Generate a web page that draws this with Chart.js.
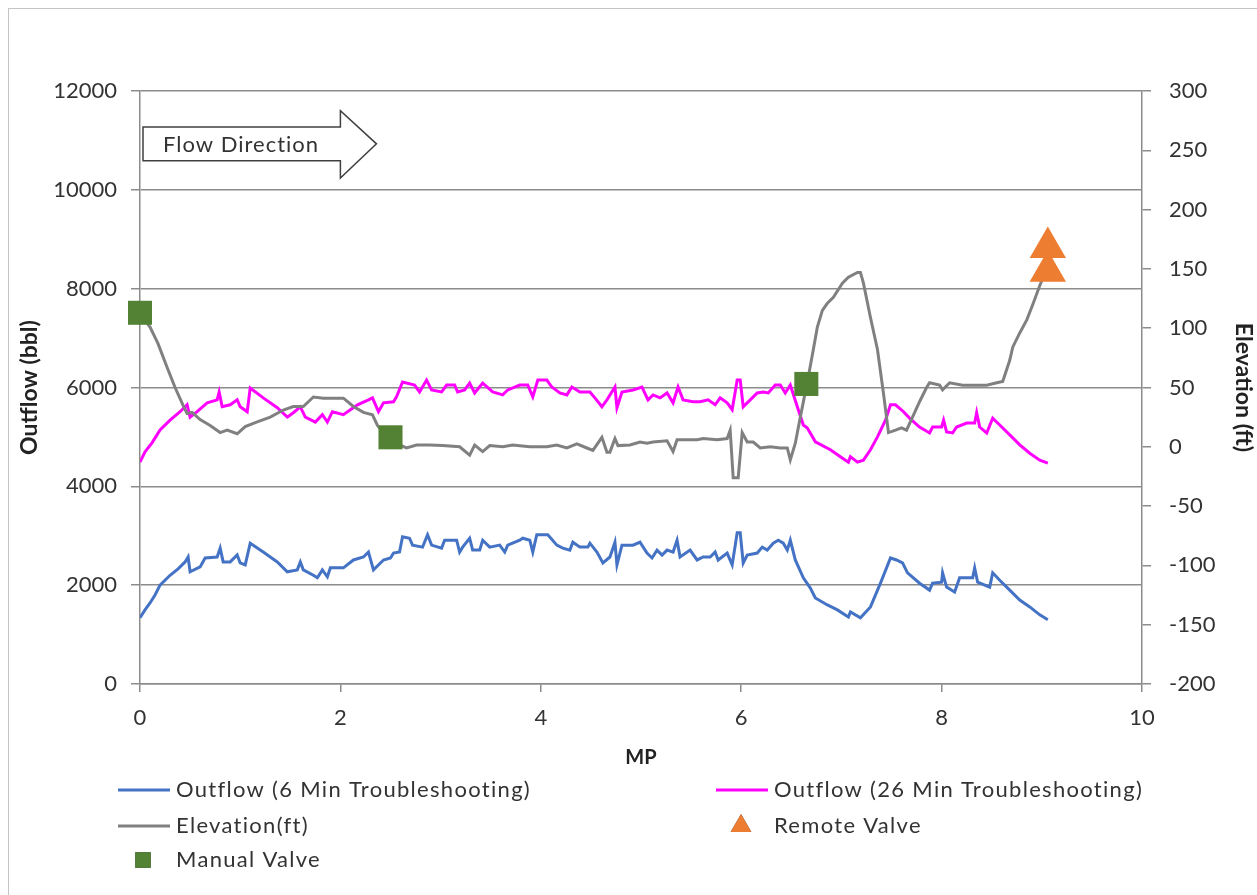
<!DOCTYPE html>
<html>
<head>
<meta charset="utf-8">
<title>Outflow and Elevation along MP</title>
<script src="https://cdn.jsdelivr.net/npm/chart.js@4.4.1/dist/chart.umd.min.js"></script>
<style>
  html, body { margin: 0; padding: 0; background: #fff; overflow: hidden; }
  canvas { display: block; }
</style>
</head>
<body>
<canvas id="outflowChart" width="1257" height="895"></canvas>
<script>
// tick values for the three axes
const mpTicks = [0, 2, 4, 6, 8, 10];
const outflowTicks = [0, 2000, 4000, 6000, 8000, 10000, 12000];
const elevTicks = [-200, -150, -100, -50, 0, 50, 100, 150, 200, 250, 300];

// Outflow, 6 min troubleshooting (bbl)
const mp6 = [0.00,0.05,0.10,0.15,0.20,0.30,0.38,0.45,0.48,0.50,0.60,0.65,0.77,0.80,0.83,0.90,0.97,1.00,1.05,1.10,
  1.23,1.37,1.47,1.57,1.60,1.63,1.73,1.77,1.82,1.87,1.90,2.03,2.13,2.23,2.28,2.33,2.43,2.50,2.53,2.59,
  2.62,2.69,2.72,2.82,2.87,2.91,3.01,3.04,3.16,3.19,3.22,3.29,3.32,3.39,3.42,3.49,3.59,3.64,3.67,3.79,
  3.82,3.89,3.92,3.96,4.07,4.16,4.22,4.29,4.32,4.39,4.47,4.49,4.56,4.62,4.69,4.74,4.76,4.81,4.92,4.99,
  5.06,5.11,5.16,5.21,5.26,5.32,5.36,5.39,5.49,5.56,5.62,5.69,5.74,5.77,5.86,5.91,5.96,5.99,6.02,6.06,
  6.16,6.21,6.26,6.32,6.37,6.42,6.46,6.49,6.54,6.62,6.69,6.74,6.86,6.96,7.07,7.09,7.19,7.29,7.39,7.49,
  7.55,7.61,7.66,7.78,7.88,7.91,8.00,8.01,8.05,8.13,8.18,8.31,8.33,8.36,8.48,8.51,8.58,8.68,8.78,8.88,
  8.98,9.06];
const outflow6 = [1340,1500,1640,1800,2000,2200,2330,2470,2570,2270,2370,2550,2570,2750,2470,2470,2610,2450,2410,2850,
  2670,2470,2270,2310,2470,2310,2200,2150,2310,2170,2350,2350,2510,2570,2670,2310,2510,2550,2650,2670,
  2980,2950,2810,2770,3020,2810,2750,2910,2910,2670,2770,2950,2710,2710,2910,2770,2810,2670,2810,2910,
  2950,2910,2670,3020,3020,2810,2750,2710,2870,2770,2770,2850,2670,2450,2570,2870,2410,2810,2810,2870,
  2650,2550,2710,2610,2710,2670,2910,2570,2710,2510,2570,2570,2670,2510,2650,2410,3060,3060,2450,2610,
  2650,2770,2710,2850,2910,2850,2710,2910,2510,2150,1940,1740,1600,1500,1356,1460,1340,1560,2040,2550,
  2510,2450,2250,2040,1900,2040,2060,2250,1960,1860,2150,2150,2350,2060,1960,2250,2100,1900,1700,1560,
  1400,1300];

// Outflow, 26 min troubleshooting (bbl)
const mp26 = [0.00,0.05,0.12,0.20,0.30,0.40,0.47,0.50,0.57,0.67,0.77,0.79,0.82,0.90,0.97,1.00,1.07,1.10,1.23,1.37,
  1.47,1.53,1.60,1.65,1.75,1.82,1.87,1.92,2.03,2.10,2.17,2.28,2.32,2.38,2.43,2.53,2.56,2.62,2.74,2.79,
  2.86,2.91,3.01,3.06,3.14,3.17,3.24,3.29,3.34,3.42,3.52,3.62,3.67,3.79,3.87,3.92,3.97,4.06,4.11,4.19,
  4.26,4.31,4.39,4.49,4.54,4.61,4.66,4.74,4.76,4.81,4.92,5.01,5.07,5.12,5.19,5.26,5.32,5.37,5.42,5.52,
  5.59,5.67,5.74,5.79,5.86,5.91,5.96,5.99,6.02,6.06,6.16,6.22,6.27,6.34,6.39,6.44,6.49,6.56,6.62,6.66,
  6.74,6.89,6.99,7.07,7.09,7.16,7.22,7.29,7.36,7.44,7.49,7.54,7.62,7.68,7.78,7.88,7.91,8.00,8.02,8.05,
  8.11,8.15,8.25,8.33,8.35,8.38,8.45,8.51,8.58,8.68,8.78,8.88,8.98,9.06];
const outflow26 = [4490,4700,4880,5140,5340,5510,5650,5400,5510,5690,5750,5910,5610,5650,5750,5610,5510,5990,5790,5590,
  5400,5490,5610,5400,5300,5450,5300,5510,5450,5550,5650,5750,5790,5510,5690,5710,5810,6110,6050,5910,
  6150,5950,5910,6050,6050,5910,5950,6090,5890,6090,5910,5850,5950,6050,6050,5810,6150,6150,6010,5890,
  5850,6010,5910,5910,5790,5610,5750,6010,5590,5910,5950,6010,5750,5850,5790,5890,5690,6010,5750,5710,
  5710,5750,5650,5790,5690,5550,6150,6150,5610,5690,5890,5910,5890,6050,6050,5890,6050,5610,5240,5180,
  4900,4740,4600,4490,4600,4490,4530,4740,5000,5340,5650,5650,5510,5380,5200,5080,5200,5200,5340,5100,
  5080,5200,5280,5280,5490,5200,5080,5380,5240,5040,4840,4670,4530,4470];

// Pipeline elevation (ft)
const mpElev = [0.00,0.10,0.18,0.27,0.35,0.43,0.47,0.52,0.60,0.70,0.80,0.87,0.97,1.05,1.17,1.30,1.43,1.53,1.63,1.73,
  1.83,2.03,2.13,2.23,2.32,2.37,2.45,2.55,2.66,2.76,2.89,3.02,3.19,3.29,3.34,3.42,3.49,3.62,3.72,3.89,
  4.06,4.16,4.26,4.36,4.46,4.52,4.61,4.66,4.69,4.74,4.77,4.89,4.99,5.06,5.12,5.26,5.32,5.36,5.46,5.56,
  5.62,5.76,5.86,5.89,5.92,5.97,6.01,6.06,6.12,6.19,6.29,6.39,6.46,6.49,6.54,6.59,6.67,6.72,6.76,6.81,
  6.86,6.92,7.01,7.07,7.16,7.19,7.22,7.29,7.36,7.42,7.47,7.54,7.60,7.65,7.71,7.78,7.85,7.88,7.98,8.01,
  8.08,8.21,8.31,8.45,8.55,8.61,8.68,8.71,8.78,8.85,8.91,8.98,9.04];
const elevation = [113,101,87,67,50,35,28,29,23,18,12,14,11,17,21,25,31,34,34,42,
  41,41,34,29,27,18,10,3,-1,1.5,1.5,1,0,-7,1.5,-4,1,0,1.5,0,
  0,1.5,-1,2.4,-1,-3,8,-4.5,-4.5,7,1,1.5,4,3,4,5,-4,6,6,6,
  7,6,7,14,-26,-26,12,4,4,-1,0,-1,-1,-11,3,25,59,82,101,115,
  121,126,138,143,147,147,138,109,82,45,12,14,16,14,25,38,50,54,52,48,
  54,52,52,52,54,55,73,84,96,107,120,136,148];

// valve locations (MP, elevation ft)
const manualValveMP = [0.00, 2.50, 6.65];
const manualValveElev = [113, 8, 53];
const remoteValveMP = [9.06, 9.06];
const remoteValveElev = [168, 148];

const pairs = (xs, ys) => xs.map((x, i) => ({ x: x, y: ys[i] }));

const FONT = 'Lato, "Open Sans", sans-serif';
const TEXT = '#333333';
const GRID = '#8c8c8c';

// page frame, flow arrow and the two-column legend
const decorations = {
  id: 'decorations',
  beforeDraw(chart) {
    const ctx = chart.ctx;
    ctx.save();
    ctx.strokeStyle = '#c4c4c4';
    ctx.lineWidth = 1;
    ctx.strokeRect(8.5, 8.5, chart.width + 20, chart.height + 20);
    ctx.restore();
  },
  afterDraw(chart) {
    const ctx = chart.ctx;
    const sx = chart.scales.x, sy = chart.scales.y;
    // flow direction arrow, placed in data units
    const x0 = sx.getPixelForValue(0.03), x1 = sx.getPixelForValue(2.0), x2 = sx.getPixelForValue(2.36);
    const yBodyTop = sy.getPixelForValue(11270), yBodyBot = sy.getPixelForValue(10590);
    const yHeadTop = sy.getPixelForValue(11600), yHeadBot = sy.getPixelForValue(10240);
    const yMid = (yBodyTop + yBodyBot) / 2;
    ctx.save();
    ctx.beginPath();
    ctx.moveTo(x0, yBodyTop);
    ctx.lineTo(x1, yBodyTop);
    ctx.lineTo(x1, yHeadTop);
    ctx.lineTo(x2, yMid);
    ctx.lineTo(x1, yHeadBot);
    ctx.lineTo(x1, yBodyBot);
    ctx.lineTo(x0, yBodyBot);
    ctx.closePath();
    ctx.fillStyle = '#ffffff';
    ctx.fill();
    ctx.strokeStyle = '#404040';
    ctx.lineWidth = 1.5;
    ctx.stroke();
    ctx.fillStyle = TEXT;
    ctx.font = '22px ' + FONT;
    ctx.letterSpacing = '1px';
    ctx.textBaseline = 'middle';
    ctx.textAlign = 'left';
    ctx.fillText('Flow Direction', sx.getPixelForValue(0.23), yMid + 1);
    ctx.restore();

    // legend: two columns under the x axis title
    const ds = chart.data.datasets;
    const cols = [118, 716];
    const rows = [790, 826, 860];
    const slots = [[0, 0], [1, 0], [0, 1], [1, 1], [0, 2]];
    ctx.save();
    ctx.font = '22px ' + FONT;
    ctx.letterSpacing = '1.3px';
    ctx.textBaseline = 'middle';
    ctx.textAlign = 'left';
    slots.forEach((slot, i) => {
      const d = ds[i];
      const lx = cols[slot[0]], ly = rows[slot[1]];
      if (d.showLine === false) {
        Chart.helpers.drawPoint(ctx, {
          pointStyle: d.pointStyle,
          radius: d.legendRadius,
          borderWidth: 0
        }, lx + 25, ly);
        ctx.fillStyle = d.backgroundColor;
        ctx.fill();
      } else {
        ctx.beginPath();
        ctx.moveTo(lx, ly);
        ctx.lineTo(lx + 52, ly);
        ctx.strokeStyle = d.borderColor;
        ctx.lineWidth = 3;
        ctx.stroke();
      }
      ctx.fillStyle = TEXT;
      ctx.fillText(d.label, lx + 58, ly);
    });
    ctx.restore();
  }
};

new Chart(document.getElementById('outflowChart').getContext('2d'), {
  type: 'line',
  data: {
    datasets: [
      {
        label: 'Outflow (6 Min Troubleshooting)',
        data: pairs(mp6, outflow6),
        yAxisID: 'y',
        borderColor: '#4472C4',
        borderWidth: 3,
        pointRadius: 0,
        tension: 0,
        order: 3
      },
      {
        label: 'Outflow (26 Min Troubleshooting)',
        data: pairs(mp26, outflow26),
        yAxisID: 'y',
        borderColor: '#FF00FF',
        borderWidth: 3,
        pointRadius: 0,
        tension: 0,
        order: 2
      },
      {
        label: 'Elevation(ft)',
        data: pairs(mpElev, elevation),
        yAxisID: 'y2',
        borderColor: '#808080',
        borderWidth: 3,
        pointRadius: 0,
        tension: 0,
        order: 1
      },
      {
        label: 'Remote Valve',
        data: pairs(remoteValveMP, remoteValveElev),
        yAxisID: 'y2',
        showLine: false,
        clip: false,
        pointStyle: 'triangle',
        pointRadius: 21,
        legendRadius: 12,
        backgroundColor: '#ED7D31',
        borderColor: '#ED7D31',
        borderWidth: 0,
        order: 0
      },
      {
        label: 'Manual Valve',
        data: pairs(manualValveMP, manualValveElev),
        yAxisID: 'y2',
        showLine: false,
        clip: false,
        pointStyle: 'rect',
        pointRadius: 17,
        legendRadius: 11,
        backgroundColor: '#548235',
        borderColor: '#548235',
        borderWidth: 0,
        order: 0
      }
    ]
  },
  options: {
    responsive: false,
    animation: false,
    layout: { padding: { top: 91, left: 0, right: 0, bottom: 0 } },
    plugins: {
      legend: { display: false },
      tooltip: { enabled: false }
    },
    scales: {
      x: {
        type: 'linear',
        min: mpTicks[0],
        max: mpTicks[mpTicks.length - 1],
        afterFit: (s) => { s.height = 211; },
        ticks: {
          stepSize: mpTicks[1] - mpTicks[0],
          color: TEXT,
          font: { family: FONT, size: 22 },
          padding: 13
        },
        grid: { drawOnChartArea: false, drawTicks: true, tickLength: 8, color: GRID, lineWidth: 1.5 },
        border: { color: GRID, width: 1.5 },
        title: {
          display: true,
          text: 'MP',
          color: '#222222',
          font: { family: FONT, size: 20, weight: 'bold' },
          padding: { top: 0, bottom: 125 }
        }
      },
      y: {
        position: 'left',
        min: outflowTicks[0],
        max: outflowTicks[outflowTicks.length - 1],
        afterFit: (s) => { s.width = 140; },
        ticks: {
          stepSize: outflowTicks[1] - outflowTicks[0],
          color: TEXT,
          font: { family: FONT, size: 22 },
          padding: 14,
          callback: (v) => String(v)
        },
        grid: { color: GRID, lineWidth: 1.5, tickLength: 9 },
        border: { color: GRID, width: 1.5 },
        title: {
          display: true,
          text: 'Outflow (bbl)',
          color: '#222222',
          font: { family: FONT, size: 23, weight: 'bold' },
          padding: { top: 16, bottom: 0 }
        }
      },
      y2: {
        position: 'right',
        min: elevTicks[0],
        max: elevTicks[elevTicks.length - 1],
        afterFit: (s) => { s.width = 115; },
        ticks: {
          stepSize: elevTicks[1] - elevTicks[0],
          color: TEXT,
          font: { family: FONT, size: 22 },
          padding: 18,
          callback: (v) => String(v)
        },
        grid: { drawOnChartArea: false, color: GRID, lineWidth: 1.5, tickLength: 9 },
        border: { color: GRID, width: 1.5 },
        title: {
          display: true,
          text: 'Elevation (ft)',
          color: '#222222',
          font: { family: FONT, size: 23, weight: 'bold' },
          padding: { top: 0, bottom: 0 }
        }
      }
    }
  },
  plugins: [decorations]
});
</script>
</body>
</html>
